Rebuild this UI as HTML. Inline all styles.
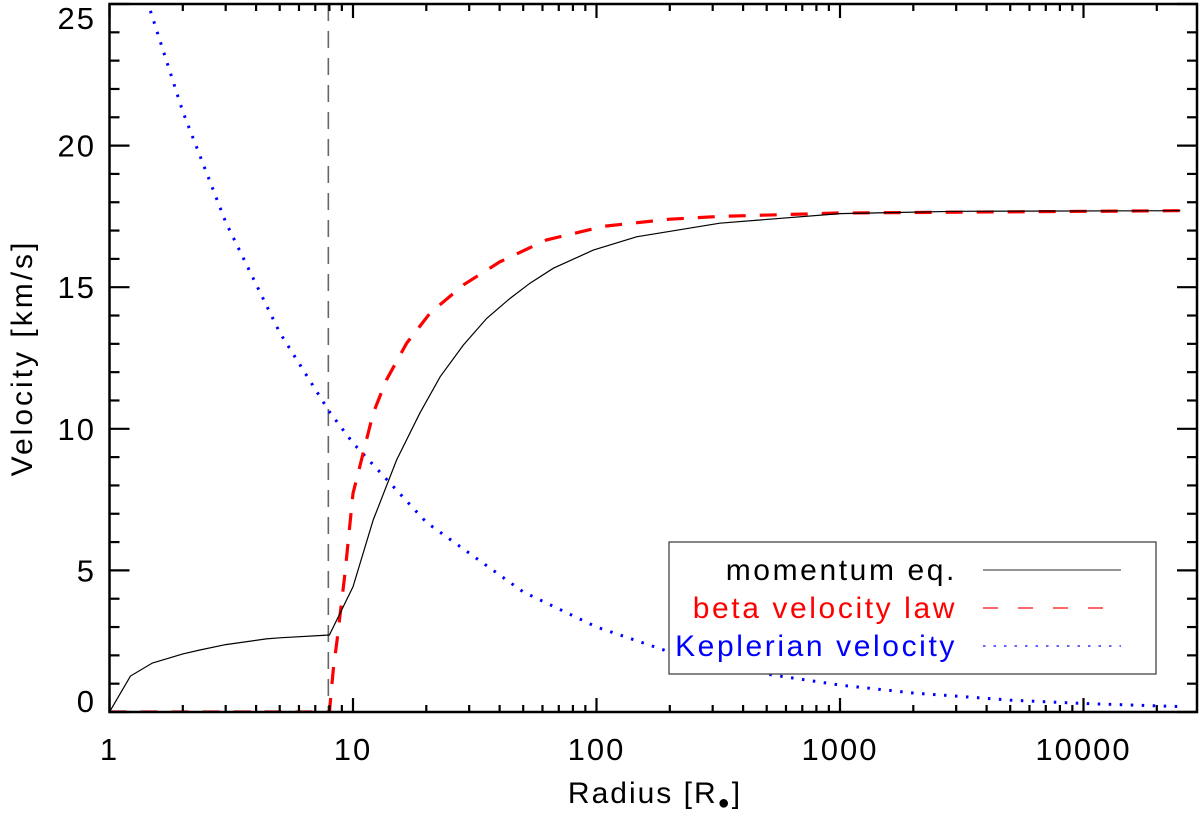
<!DOCTYPE html>
<html><head><meta charset="utf-8"><style>
body{margin:0;background:#fff}
svg text{font-family:"Liberation Sans",sans-serif}
</style></head><body>
<svg id="chart" width="1200" height="812" xmlns="http://www.w3.org/2000/svg"></svg>
<script>
const momR=[1,1.22,1.5,2,2.35,3,4.4,5,8,10,12.1,15.1,18.8,22.8,28.4,35.4,44.1,53.3,66.5,97,146,321,1000,3000,25000];
const momV=[0,1.27,1.73,2.05,2.19,2.38,2.58,2.62,2.72,4.42,6.78,8.9,10.55,11.84,12.96,13.9,14.6,15.14,15.67,16.31,16.78,17.26,17.6,17.68,17.7];
const betaR=[1,7.95,8.0,8.3,8.62,9.27,10,11,12.1,13.7,16.6,20.7,28.4,40.2,62.4,107,200,321,1000,25000];
const betaV=[0,0,0,1.5,2.6,4.9,7.72,9.13,10.55,11.72,13.02,14.08,15.08,15.9,16.67,17.15,17.4,17.5,17.62,17.7];
const kepR=[1,1.43,2,3,5,8,10,20,50,100,200,500,1000,2000,5000,10000,25000];
const kepV=[30,25.1,21.2,17.3,13.4,10.6,9.5,6.7,4.24,3.0,2.12,1.34,0.95,0.67,0.42,0.3,0.19];
const xTicks=[1,10,100,1000,10000];
const xTickLabels=["1","10","100","1000","10000"];
const yTicks=[0,5,10,15,20,25];
const yTickLabels=["0","5","10","15","20","25"];

const L=109.5,R=1197,T=4,B=712,DEC=243.5,YMAX=25;
const X=v=>L+Math.log10(v)*DEC;
const Y=v=>B-(v/YMAX)*(B-T);
const svg=document.getElementById('chart');
const NS='http://www.w3.org/2000/svg';
function mk(tag,attrs,parent){const e=document.createElementNS(NS,tag);for(const k in attrs)e.setAttribute(k,attrs[k]);(parent||svg).appendChild(e);return e;}
const defs=mk('defs',{});
const cp=mk('clipPath',{id:'clip'},defs);
mk('rect',{x:L,y:T,width:R-L,height:B-T},cp);
const plot=mk('g',{'clip-path':'url(#clip)'});



function pathFrom(rs,vs){return rs.map((r,i)=>(i?'L':'M')+X(r).toFixed(1)+','+Y(vs[i]).toFixed(1)).join(' ');}
const vl=mk('line',{x1:X(7.92),x2:X(7.92),y1:T,y2:B,stroke:'#666',"stroke-width":1.6,"stroke-dasharray":"17,10"},plot);


const kp=mk('path',{d:pathFrom(kepR,kepV),fill:'none',stroke:'#0000ff',"stroke-width":3,"stroke-dasharray":"2.5,8.5"},plot);


const bp=mk('path',{d:pathFrom(betaR,betaV),fill:'none',stroke:'#ff0000',"stroke-width":3.2,"stroke-dasharray":"17,14"},plot);


const mp=mk('path',{d:pathFrom(momR,momV),fill:'none',stroke:'#000',"stroke-width":1.2},plot);



const fr=mk('rect',{x:L,y:T,width:R-L,height:B-T,fill:'none',stroke:'#000',"stroke-width":2.5});


for(let d=0;d<5;d++){for(let m=1;m<10;m++){const v=Math.pow(10,d)*m;const x=X(v);if(x>R)break;const len=m===1?14:7;
 const t1=mk('line',{x1:x,x2:x,y1:B,y2:B-len,stroke:'#000',"stroke-width":2.2});
 const t2=mk('line',{x1:x,x2:x,y1:T,y2:T+len,stroke:'#000',"stroke-width":2.2});}}
xTicks.forEach((v,i)=>{const t=mk('text',{x:X(v),y:760,"font-size":31,"letter-spacing":2,"text-anchor":"middle",fill:'#000'});t.textContent=xTickLabels[i];
 });
for(let v=0;v<=25;v++){const y=Y(v);const len=v%5===0?20:10;
 const a=mk('line',{x1:L,x2:L+len,y1:y,y2:y,stroke:'#000',"stroke-width":2.2});
 const b=mk('line',{x1:R,x2:R-len,y1:y,y2:y,stroke:'#000',"stroke-width":2.2});}
yTicks.forEach((v,i)=>{let y=Y(v)+11;if(v===0)y-=11;if(v===25)y+=14;const t=mk('text',{x:96,y:y,"font-size":31,"letter-spacing":2,"text-anchor":"end",fill:'#000'});t.textContent=yTickLabels[i];
 });
const xt=mk('text',{x:655,y:803,"font-size":30,"letter-spacing":2,"text-anchor":"middle",fill:'#000'});
xt.textContent='Radius [R';
const sub=mk('tspan',{"font-size":20,dy:6},xt);sub.textContent='\u25CF';
const cl=mk('tspan',{dy:-6},xt);cl.textContent=']';

const yt=mk('text',{x:0,y:0,"font-size":30,"letter-spacing":3,"text-anchor":"middle",fill:'#000',transform:'translate(32,358) rotate(-90)'});yt.textContent='Velocity [km/s]';

const lg=mk('g',{});
mk('rect',{x:669,y:542,width:487,height:132,fill:'#fff',stroke:'#444',"stroke-width":1.3},lg);
const entries=[['momentum eq.','#000','none',1.2,'#555'],['beta velocity law','#ff0000','15,20',2,'#ff6666'],['Keplerian velocity','#0000ff','2.5,8',2,'#6666ff']];
entries.forEach((e,i)=>{const y=580+i*38;
 const t=mk('text',{x:957,y:y,"font-size":30,"letter-spacing":2.6,"text-anchor":"end",fill:e[1]},lg);t.textContent=e[0];
 
 const l=mk('line',{x1:983,x2:1121,y1:y-10,y2:y-10,stroke:e[4],"stroke-width":e[3],"stroke-dasharray":e[2]},lg);
 });
</script>
</body></html>
